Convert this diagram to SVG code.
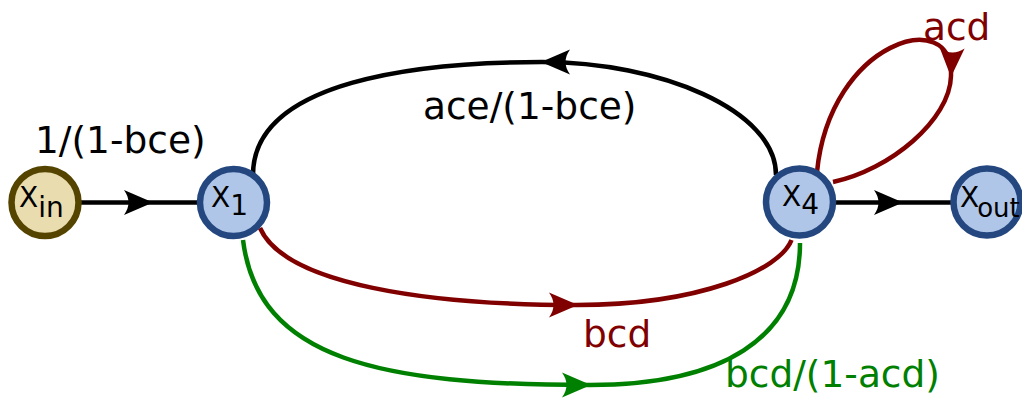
<svg xmlns="http://www.w3.org/2000/svg" width="1022" height="398" viewBox="0 0 1022 398">
<style>
.lbl{font-family:"DejaVu Sans","Liberation Sans",sans-serif;font-size:37.5px}
.nl{font-family:"DejaVu Sans","Liberation Sans",sans-serif;font-size:28px;fill:#000}
.e{fill:none;stroke-width:4.5}
.k{stroke:#000}
.r{stroke:#800000}
.g{stroke:#008000}
.nb{fill:#afc6e9;stroke:#24477f;stroke-width:6.5}
.ny{fill:#e9ddaf;stroke:#554400;stroke-width:6.5}
</style>
<defs>
<marker id="ak" markerUnits="userSpaceOnUse" markerWidth="40" markerHeight="40" refX="0" refY="0" orient="auto" overflow="visible"><path d="M1,0 L-28,-12.5 C-22,-4 -22,4 -28,12.5 Z" fill="#000"/></marker>
<marker id="ar" markerUnits="userSpaceOnUse" markerWidth="40" markerHeight="40" refX="0" refY="0" orient="auto" overflow="visible"><path d="M1,0 L-28,-12.5 C-22,-4 -22,4 -28,12.5 Z" fill="#800000"/></marker>
<marker id="ag" markerUnits="userSpaceOnUse" markerWidth="40" markerHeight="40" refX="0" refY="0" orient="auto" overflow="visible"><path d="M1,0 L-28,-12.5 C-22,-4 -22,4 -28,12.5 Z" fill="#008000"/></marker>
</defs>
<g id="connectors">
<path class="e k" marker-mid="url(#ak)" d="M80,202.5 L152,202.5 L200,202.5"/>
<path class="e k" marker-mid="url(#ak)" d="M834,202.5 L902,202.5 L955,202.5"/>
<path class="e k" marker-mid="url(#ak)" d="M776,175 C776,110 660,62 542,62 C420,62 253,80 253,175"/>
<path class="e r" marker-mid="url(#ar)" d="M260,228 C285,285 430,305 577,305 C700,305 780,270 791.5,240"/>
<path class="e g" marker-mid="url(#ag)" d="M243,240 C258,360 380,385 590,385 C720,385 800,340 800,243"/>
<path class="e r" marker-mid="url(#ar)" d="M817,172 C830,40 955,5 951,76 C950,120 890,170 833,182"/>
<text class="lbl" x="35" y="152.5" fill="#000">1/(1-bce)</text>
<text class="lbl" x="423" y="119" fill="#000">ace/(1-bce)</text>
<text class="lbl" x="923" y="40" fill="#800000">acd</text>
<text class="lbl" x="583" y="347" fill="#800000">bcd</text>
<text class="lbl" x="725" y="387" fill="#008000">bcd/(1-acd)</text>
</g>
<g id="node-xin"><circle class="ny" cx="45" cy="202.5" r="33.5"/><text class="nl" x="19" y="207">X<tspan dy="10">in</tspan></text></g>
<g id="node-x1"><circle class="nb" cx="233.5" cy="202.5" r="33.5"/><text class="nl" x="211" y="207">X<tspan dy="8">1</tspan></text></g>
<g id="node-x4"><circle class="nb" cx="799.5" cy="202" r="33.5"/><text class="nl" x="782" y="206">X<tspan dy="8">4</tspan></text></g>
<g id="node-xout"><circle class="nb" cx="987" cy="202" r="33.5"/><text class="nl" x="960" y="207">X<tspan dx="-2" dy="10" font-size="26">out</tspan></text></g>
</svg>
